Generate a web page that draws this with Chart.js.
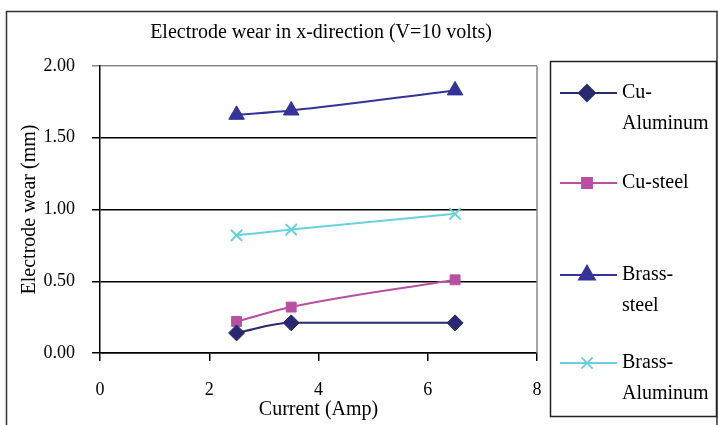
<!DOCTYPE html>
<html>
<head>
<meta charset="utf-8">
<script src="https://cdn.jsdelivr.net/npm/chart.js@4.4.1/dist/chart.umd.min.js"></script>
<style>
  body { margin: 0; background: #fff; }
  #wrap { width: 718px; height: 425px; position: relative; }
</style>
</head>
<body>
<div id="wrap"><canvas id="wearChart" width="718" height="425"></canvas></div>
<script>
// Data
const currents = [2.5, 3.5, 6.5];
const cuAluminum = [0.14, 0.21, 0.21];
const cuSteel = [0.22, 0.32, 0.51];
const brassSteel = [1.66, 1.69, 1.83];
const brassAluminum = [0.82, 0.86, 0.97];
const xTicks = [0, 2, 4, 6, 8];
const yTicks = [0, 0.5, 1, 1.5, 2];

const seriesNames = [['Cu-', 'Aluminum'], ['Cu-steel'], ['Brass-', 'steel'], ['Brass-', 'Aluminum']];
const legendRows = [93, 183, 275, 363];

const FONT = '"Liberation Serif", "Times New Roman", serif';

function toPoints(ys) {
    return currents.map((x, i) => ({ x: x, y: ys[i] }));
}

function makeSet(name, ys, color, style, radius, bw) {
    return {
        label: name.join(' '),
        data: toPoints(ys),
        showLine: true,
        borderColor: color,
        backgroundColor: color,
        borderWidth: 2,
        pointStyle: style,
        pointRadius: radius,
        pointHoverRadius: radius,
        pointBorderWidth: bw,
        cubicInterpolationMode: 'monotone'
    };
}

// frame, title and the wrapped legend box
const decorPlugin = {
    id: 'decor',
    afterDraw(chart) {
        const ctx = chart.ctx;
        ctx.save();
        ctx.strokeStyle = '#333';
        ctx.lineWidth = 1.5;
        ctx.strokeRect(6.5, 11.5, 710.5, 430);

        ctx.fillStyle = '#000';
        ctx.font = '20px ' + FONT;
        ctx.textAlign = 'center';
        ctx.textBaseline = 'middle';
        ctx.fillText('Electrode wear in x-direction (V=10 volts)', 321, 33);

        ctx.lineWidth = 1.5;
        ctx.strokeStyle = '#222';
        ctx.strokeRect(550.5, 61.5, 166, 355);

        chart.data.datasets.forEach((ds, i) => {
            const y = legendRows[i];
            ctx.strokeStyle = ds.borderColor;
            ctx.fillStyle = ds.backgroundColor;
            ctx.lineWidth = 2;
            ctx.beginPath();
            ctx.moveTo(560, y);
            ctx.lineTo(617, y);
            ctx.stroke();
            Chart.helpers.drawPoint(ctx, {
                pointStyle: ds.pointStyle,
                radius: ds.pointRadius,
                rotation: 0,
                borderWidth: ds.pointBorderWidth
            }, 587, y);
            ctx.fillStyle = '#000';
            ctx.textAlign = 'left';
            ctx.font = '20px ' + FONT;
            seriesNames[i].forEach((line, j) => {
                ctx.fillText(line, 622, y + j * 31);
            });
        });
        ctx.restore();
    }
};

new Chart(document.getElementById('wearChart'), {
    type: 'scatter',
    data: {
        datasets: [
            makeSet(seriesNames[0], cuAluminum, '#29296f', 'rectRot', 8, 1),
            makeSet(seriesNames[1], cuSteel, '#b94fa3', 'rect', 7, 1),
            makeSet(seriesNames[2], brassSteel, '#333399', 'triangle', 9, 1),
            makeSet(seriesNames[3], brassAluminum, '#6cd0dc', 'crossRot', 8, 2)
        ]
    },
    options: {
        responsive: false,
        animation: false,
        events: [],
        layout: { padding: { top: 66, right: 181, left: 0, bottom: 0 } },
        plugins: { legend: { display: false }, tooltip: { enabled: false } },
        scales: {
            x: {
                type: 'linear',
                min: 0,
                max: 8,
                afterBuildTicks(scale) { scale.ticks = xTicks.map(v => ({ value: v })); },
                afterFit(scale) { scale.height = 72; },
                border: { color: '#000', width: 1.5 },
                grid: { drawOnChartArea: false, color: '#000', tickLength: 8, lineWidth: 1.5 },
                ticks: { color: '#000', font: { family: FONT, size: 18 }, padding: 18 },
                title: { display: true, text: 'Current (Amp)', color: '#000', font: { family: FONT, size: 20 }, padding: { top: 0, bottom: 3 } }
            },
            y: {
                min: 0,
                max: 2,
                afterBuildTicks(scale) { scale.ticks = yTicks.map(v => ({ value: v })); },
                afterFit(scale) { scale.width = 100; },
                border: { color: '#000', width: 1.5 },
                grid: {
                    color: ctx => (ctx.tick && ctx.tick.value === 2 ? '#888' : '#000'),
                    lineWidth: 1.5,
                    tickLength: 8
                },
                ticks: {
                    color: '#000',
                    font: { family: FONT, size: 18 },
                    padding: 17,
                    callback: v => v.toFixed(2)
                },
                title: { display: true, text: 'Electrode wear (mm)', color: '#000', font: { family: FONT, size: 20 }, padding: { top: 18, bottom: 0 } }
            }
        }
    },
    plugins: [decorPlugin, {
        id: 'rightEdge',
        beforeDatasetsDraw(chart) {
            const a = chart.chartArea, ctx = chart.ctx;
            ctx.save();
            ctx.strokeStyle = '#888';
            ctx.lineWidth = 1.5;
            ctx.beginPath();
            ctx.moveTo(a.right, a.top);
            ctx.lineTo(a.right, a.bottom);
            ctx.stroke();
            ctx.restore();
        }
    }]
});
</script>
</body>
</html>
